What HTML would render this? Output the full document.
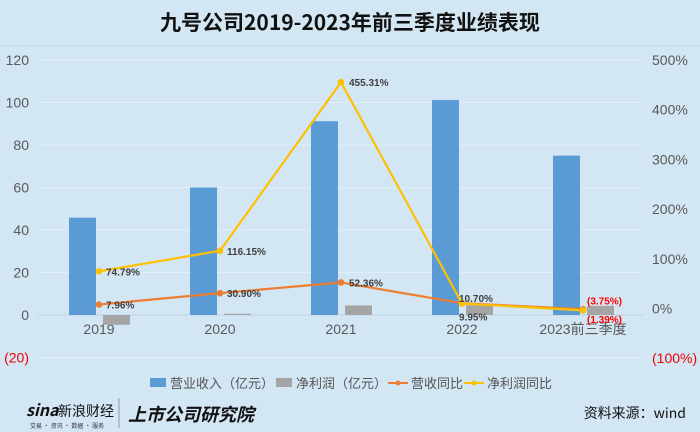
<!DOCTYPE html>
<html><head><meta charset="utf-8">
<style>
body{margin:0;width:700px;height:432px;background:#d3e6f4;overflow:hidden;font-family:"Liberation Sans","Noto Sans CJK SC",sans-serif;}
svg{display:block}
</style></head>
<body>
<svg id="chart" width="700" height="432">
<rect x="0" y="0" width="700" height="432" fill="#d3e6f4"/>
<line x1="0" y1="46" x2="700" y2="46" stroke="#c4dbee" stroke-width="1"/>
<text x="350" y="30" text-anchor="middle" font-size="21" font-weight="bold" fill="#111" font-family="'Noto Sans CJK SC',sans-serif">九号公司2019-2023年前三季度业绩表现</text>
<g id="grid"></g>
<g id="axes"></g>
<g id="marks"></g>
<g font-size="13" fill="#555" font-family="'Noto Sans CJK SC',sans-serif">
<rect x="150" y="378" width="16" height="9" fill="#5b9bd5"/>
<text x="170" y="388">营业收入（亿元）</text>
<rect x="276" y="378" width="16" height="9" fill="#a5a5a5"/>
<text x="296" y="388">净利润（亿元）</text>
<line x1="388" y1="383" x2="408" y2="383" stroke="#ed7d31" stroke-width="2"/><circle cx="398" cy="383" r="2.5" fill="#ed7d31"/>
<text x="411" y="388">营收同比</text>
<line x1="464" y1="383" x2="484" y2="383" stroke="#ffc000" stroke-width="2"/><circle cx="474" cy="383" r="2.5" fill="#ffc000"/>
<text x="487" y="388">净利润同比</text>
</g>
<g font-family="'Noto Sans CJK SC',sans-serif">
<text x="26" y="416" font-size="16" font-weight="bold" font-style="italic" fill="#111">sina</text>
<text x="58" y="416" font-size="14" fill="#111">新浪财经</text>
<text x="30" y="428" font-size="6" fill="#333">交易 · 资讯 · 数据 · 服务</text>
<line x1="119" y1="398" x2="119" y2="428" stroke="#999"/>
<text x="128" y="421" font-size="18" font-weight="bold" font-style="italic" fill="#111">上市公司研究院</text>
</g>
<text x="686" y="418" text-anchor="end" font-size="14" fill="#111" font-family="'Noto Sans CJK SC',sans-serif">资料来源：wind</text>
</svg>
<script>
const categories=["2019","2020","2021","2022","2023前三季度"];
const revenue=[45.8,60.0,91.2,101.2,75.0];
const profit=[-4.6,0.6,4.5,4.6,4.3];
const revenueYoy=[7.96,30.90,52.36,10.70,-1.39];
const profitYoy=[74.79,116.15,455.31,9.95,-3.75];
const leftTicks=[-20,0,20,40,60,80,100,120];
const rightTicks=[-100,0,100,200,300,400,500];
const NS="http://www.w3.org/2000/svg";
const x0=38.5,cw=121;
const xc=i=>x0+cw*(i+0.5);
const yL=v=>315-v*42.5/20;
const yR=v=>308.5-v*49.7/100;
function mk(tag,attrs,parent){const e=document.createElementNS(NS,tag);for(const k in attrs)e.setAttribute(k,attrs[k]);parent.appendChild(e);return e;}
const grid=document.getElementById('grid'),axes=document.getElementById('axes'),marks=document.getElementById('marks');
const fmt=v=>v<0?"("+Math.abs(v)+")":String(v);
leftTicks.forEach(t=>{
  const l=mk('line',{x1:38,x2:643,y1:yL(t),y2:yL(t),stroke:t===0?'#bcd2e4':'#e2eef8','stroke-width':1},grid);
  
  
  const tx=mk('text',{x:29,y:yL(t)+5,'text-anchor':'end','font-size':14,fill:t<0?'#e00':'#595959'},axes);
  tx.textContent=fmt(t);
  
  
});
rightTicks.forEach(t=>{
  const tx=mk('text',{x:652,y:yR(t)+5,'font-size':14,fill:t<0?'#e00':'#595959'},axes);
  tx.textContent=t<0?"("+Math.abs(t)+"%)":t+"%";
  
  
});
categories.forEach((c,i)=>{
  const tx=mk('text',{x:xc(i),y:334,'text-anchor':'middle','font-size':14,fill:'#595959','font-family':"'Liberation Sans','Noto Sans CJK SC',sans-serif"},axes);
  tx.textContent=c;
  
  
  const r=mk('rect',{x:xc(i)-30,width:27,y:Math.min(yL(revenue[i]),yL(0)),height:Math.abs(yL(revenue[i])-yL(0)),fill:'#5b9bd5'},marks);
  
  
  const p=mk('rect',{x:xc(i)+4,width:27,y:Math.min(yL(profit[i]),yL(0)),height:Math.abs(yL(profit[i])-yL(0)),fill:'#a5a5a5'},marks);
  
  
});
function line(vals,color,name){
  const pl=mk('polyline',{points:vals.map((v,i)=>xc(i)+','+yR(v)).join(' '),fill:'none',stroke:color,'stroke-width':2.2},marks);
  
  
  vals.forEach((v,i)=>{
    const c=mk('circle',{cx:xc(i),cy:yR(v),r:3.3,fill:color},marks);
    
    
  });
}
line(revenueYoy,'#ed7d31','revenue-yoy');
line(profitYoy,'#ffc000','profit-yoy');
function lbl(vals,name,offs){
  vals.forEach((v,i)=>{
    const o=offs[i];
    const t=mk('text',{x:xc(i)+o[0],y:yR(v)+o[1],'font-size':10,'font-weight':'bold',fill:v<0?'#f00':'#404040'},marks);
    t.textContent=v<0?"("+Math.abs(v).toFixed(2)+"%)":v.toFixed(2)+"%";
    
    
  });
}
lbl(revenueYoy,'revenue-yoy',[[7,4],[7,4],[8,4],[-3,-1],[4,14]]);
lbl(profitYoy,'profit-yoy',[[7,4],[7,4],[8,4],[-3,17],[4,-6]]);
</script>
</body></html>
